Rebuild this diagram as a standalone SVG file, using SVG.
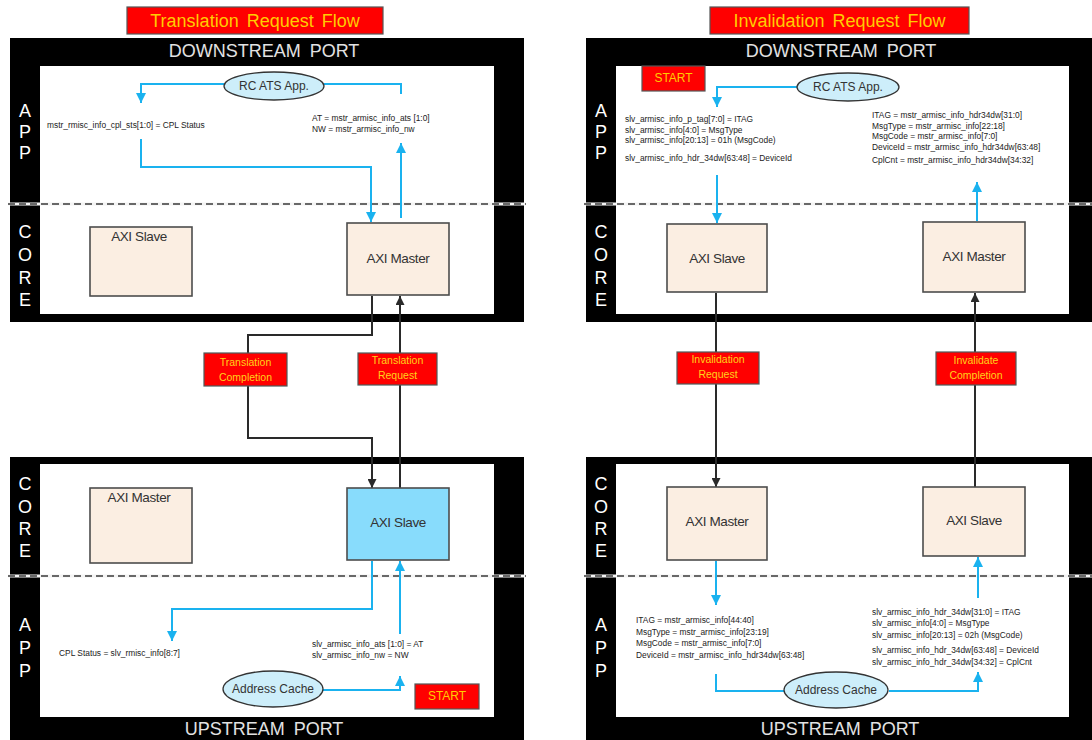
<svg xmlns="http://www.w3.org/2000/svg" width="1092" height="740" viewBox="0 0 1092 740">
  <style>
    text { font-family: "Liberation Sans", Arial, sans-serif; }
    .bg { fill: #ffffff; }
    .frame { fill: #000000; }
    .inner { fill: #ffffff; }
    .gap { fill: #f4f4f4; }
    .dash { stroke: #3a3a3a; stroke-width: 1.5; stroke-dasharray: 7 4; fill: none; }
    .port { fill: #e2e2e2; font-size: 18px; text-anchor: middle; }
    .side { fill: #ffffff; font-size: 18px; text-anchor: middle; }
    .title { fill: #ff0000; stroke: #555555; stroke-width: 1.2; }
    .titletxt { fill: #ffcc00; font-size: 18px; text-anchor: middle; word-spacing: 3px; }
    .axi { fill: #fbeee2; stroke: #4d4d4d; stroke-width: 1.6; }
    .axiblue { fill: #88dcfc; stroke: #4d4d4d; stroke-width: 1.6; }
    .axitxt { fill: #333333; font-size: 13.5px; text-anchor: middle; letter-spacing: -0.4px; }
    .oval { fill: #cdeefa; stroke: #333333; stroke-width: 1.3; }
    .ovaltxt { fill: #333333; font-size: 12px; text-anchor: middle; }
    .tag { fill: #ff0000; stroke: #4d5a5a; stroke-width: 1.2; }
    .tagtxt { fill: #ffd21a; font-size: 10.5px; text-anchor: middle; }
    .start { fill: #ff0000; stroke: #555555; stroke-width: 1.2; }
    .starttxt { fill: #ffcc00; font-size: 12px; text-anchor: middle; }
    .sig { fill: #222222; font-size: 8.4px; }
    .blue { stroke: #1ab2ef; stroke-width: 2; fill: none; }
    .blk { stroke: #2a2a2a; stroke-width: 2; fill: none; }
  </style>
  <defs>
    <marker id="ahBlue" viewBox="0 0 10 10" refX="10" refY="5" markerWidth="10" markerHeight="10" markerUnits="userSpaceOnUse" orient="auto">
      <path d="M0,0 L10,5 L0,10 z" fill="#1ab2ef"/>
    </marker>
    <marker id="ahBlack" viewBox="0 0 10 10" refX="10" refY="5" markerWidth="9" markerHeight="9" markerUnits="userSpaceOnUse" orient="auto">
      <path d="M0,0 L10,5 L0,10 z" fill="#2a2a2a"/>
    </marker>
  </defs>

  <rect class="bg" x="0" y="0" width="1092" height="740"/>

  <!-- ===== Frames: downstream / upstream ports ===== -->
  <g id="frames">
    <!-- left, downstream -->
    <rect class="frame" x="10" y="38" width="514" height="284"/>
    <rect class="inner" x="40" y="66" width="454" height="248"/>
    <rect class="gap" x="8" y="202.5" width="518" height="3"/>
    <line class="dash" x1="8" y1="204" x2="526" y2="204"/>
    <!-- left, upstream -->
    <rect class="frame" x="10" y="457" width="514" height="290"/>
    <rect class="inner" x="40" y="464" width="454" height="253"/>
    <rect class="gap" x="8" y="574.5" width="518" height="3"/>
    <line class="dash" x1="8" y1="576" x2="526" y2="576"/>
    <!-- right, downstream -->
    <rect class="frame" x="586" y="38" width="520" height="284"/>
    <rect class="inner" x="616" y="66" width="453" height="248"/>
    <rect class="gap" x="584" y="202.5" width="510" height="3"/>
    <line class="dash" x1="584" y1="204" x2="1092" y2="204"/>
    <!-- right, upstream -->
    <rect class="frame" x="586" y="457" width="520" height="290"/>
    <rect class="inner" x="616" y="464" width="453" height="253"/>
    <rect class="gap" x="584" y="574.5" width="510" height="3"/>
    <line class="dash" x1="584" y1="576" x2="1092" y2="576"/>

    <text class="port" x="264" y="57" word-spacing="4">DOWNSTREAM PORT</text>
    <text class="port" x="841" y="57" word-spacing="4">DOWNSTREAM PORT</text>
    <text class="port" x="264" y="735" word-spacing="4">UPSTREAM PORT</text>
    <text class="port" x="840" y="735" word-spacing="4">UPSTREAM PORT</text>

    <!-- side labels -->
    <g class="side">
      <text x="25" y="117">A</text><text x="25" y="138">P</text><text x="25" y="159">P</text>
      <text x="25" y="238">C</text><text x="25" y="261">O</text><text x="25" y="284">R</text><text x="25" y="306">E</text>
      <text x="25" y="490">C</text><text x="25" y="513">O</text><text x="25" y="535">R</text><text x="25" y="557">E</text>
      <text x="25" y="631">A</text><text x="25" y="654">P</text><text x="25" y="677">P</text>
      <text x="601" y="117">A</text><text x="601" y="138">P</text><text x="601" y="159">P</text>
      <text x="601" y="238">C</text><text x="601" y="261">O</text><text x="601" y="284">R</text><text x="601" y="306">E</text>
      <text x="601" y="490">C</text><text x="601" y="513">O</text><text x="601" y="535">R</text><text x="601" y="557">E</text>
      <text x="601" y="631">A</text><text x="601" y="654">P</text><text x="601" y="677">P</text>
    </g>
  </g>

  <!-- ===== Titles ===== -->
  <g id="title-translation">
    <rect class="title" x="127" y="7" width="256" height="27"/>
    <text class="titletxt" x="255" y="27">Translation Request Flow</text>
  </g>
  <g id="title-invalidation">
    <rect class="title" x="710" y="7" width="259" height="27"/>
    <text class="titletxt" x="839.5" y="27">Invalidation Request Flow</text>
  </g>

  <!-- ===== Connectors ===== -->
  <g id="connectors">
    <!-- translation flow, downstream app -->
    <path class="blue" d="M224,84 H141 V103" marker-end="url(#ahBlue)"/>
    <path class="blue" d="M141,139 V167 H371 V222" marker-end="url(#ahBlue)"/>
    <path class="blue" d="M401,218 V143" marker-end="url(#ahBlue)"/>
    <path class="blue" d="M401,94 V84 H324"/>
    <!-- translation flow, link -->
    <path class="blk" d="M372,296 V335 H248 V438 H372 V488" marker-end="url(#ahBlack)"/>
    <path class="blk" d="M400,488 V296" marker-end="url(#ahBlack)"/>
    <!-- translation flow, upstream app -->
    <path class="blue" d="M372,561 V609 H172 V641" marker-end="url(#ahBlue)"/>
    <path class="blue" d="M400,634 V561" marker-end="url(#ahBlue)"/>
    <path class="blue" d="M322,690 H400 V676" marker-end="url(#ahBlue)"/>

    <!-- invalidation flow, downstream app -->
    <path class="blue" d="M797,87 H717 V107" marker-end="url(#ahBlue)"/>
    <path class="blue" d="M717,175 V223" marker-end="url(#ahBlue)"/>
    <path class="blue" d="M977,221 V182" marker-end="url(#ahBlue)"/>
    <!-- invalidation flow, link -->
    <path class="blk" d="M716,293 V487" marker-end="url(#ahBlack)"/>
    <path class="blk" d="M975,487 V293" marker-end="url(#ahBlack)"/>
    <!-- invalidation flow, upstream app -->
    <path class="blue" d="M716,561 V605" marker-end="url(#ahBlue)"/>
    <path class="blue" d="M716,674 V691 H784"/>
    <path class="blue" d="M889,691 H978 V672" marker-end="url(#ahBlue)"/>
    <path class="blue" d="M978,598 V557" marker-end="url(#ahBlue)"/>
  </g>

  <!-- ===== Translation flow nodes ===== -->
  <g id="tr-rc-ats-app">
    <ellipse class="oval" cx="274" cy="86" rx="50" ry="14"/>
    <text class="ovaltxt" x="274" y="90">RC ATS App.</text>
  </g>
  <g id="tr-ds-cpl-status">
    <text class="sig" x="47" y="128">mstr_rmisc_info_cpl_sts[1:0]  = CPL Status</text>
  </g>
  <g id="tr-ds-at-nw">
    <text class="sig" x="312" y="121">AT = mstr_armisc_info_ats [1:0]</text>
    <text class="sig" x="312" y="132">NW = mstr_armisc_info_nw</text>
  </g>
  <g id="tr-ds-axi-slave">
    <rect class="axi" x="90" y="227" width="102" height="69"/>
    <text class="axitxt" x="139" y="241">AXI Slave</text>
  </g>
  <g id="tr-ds-axi-master">
    <rect class="axi" x="347" y="223" width="102" height="72"/>
    <text class="axitxt" x="398" y="263">AXI Master</text>
  </g>
  <g id="tr-completion">
    <rect class="tag" x="204" y="353" width="83" height="33"/>
    <text class="tagtxt" x="245.5" y="366">Translation</text>
    <text class="tagtxt" x="245.5" y="381">Completion</text>
  </g>
  <g id="tr-request">
    <rect class="tag" x="358" y="353" width="79" height="32"/>
    <text class="tagtxt" x="397.5" y="364">Translation</text>
    <text class="tagtxt" x="397.5" y="379">Request</text>
  </g>
  <g id="tr-us-axi-master">
    <rect class="axi" x="90" y="488" width="102" height="75"/>
    <text class="axitxt" x="139" y="502">AXI Master</text>
  </g>
  <g id="tr-us-axi-slave">
    <rect class="axiblue" x="347" y="488" width="102" height="72"/>
    <text class="axitxt" x="398" y="527">AXI Slave</text>
  </g>
  <g id="tr-us-cpl-status">
    <text class="sig" x="59" y="656">CPL Status  = slv_rmisc_info[8:7]</text>
  </g>
  <g id="tr-us-at-nw">
    <text class="sig" x="312" y="647">slv_armisc_info_ats [1:0] = AT</text>
    <text class="sig" x="312" y="658">slv_armisc_info_nw  = NW</text>
  </g>
  <g id="tr-address-cache">
    <ellipse class="oval" cx="273" cy="689" rx="50" ry="18"/>
    <text class="ovaltxt" x="273" y="693">Address Cache</text>
  </g>
  <g id="tr-start">
    <rect class="start" x="415" y="684" width="64" height="25"/>
    <text class="starttxt" x="447" y="700">START</text>
  </g>

  <!-- ===== Invalidation flow nodes ===== -->
  <g id="inv-start">
    <rect class="start" x="642" y="66" width="63" height="25"/>
    <text class="starttxt" x="673.5" y="82">START</text>
  </g>
  <g id="inv-rc-ats-app">
    <ellipse class="oval" cx="848" cy="87" rx="51" ry="14"/>
    <text class="ovaltxt" x="848" y="91">RC ATS App.</text>
  </g>
  <g id="inv-ds-request-fields">
    <text class="sig" x="625" y="122">slv_armisc_info_p_tag[7:0] = ITAG</text>
    <text class="sig" x="625" y="133">slv_armisc_info[4:0] = MsgType</text>
    <text class="sig" x="625" y="143">slv_armisc_info[20:13] = 01h (MsgCode)</text>
    <text class="sig" x="625" y="161">slv_armisc_info_hdr_34dw[63:48] = DeviceId</text>
  </g>
  <g id="inv-ds-completion-fields">
    <text class="sig" x="872" y="118">ITAG = mstr_armisc_info_hdr34dw[31:0]</text>
    <text class="sig" x="872" y="129">MsgType = mstr_armisc_info[22:18]</text>
    <text class="sig" x="872" y="139">MsgCode = mstr_armisc_info[7:0]</text>
    <text class="sig" x="872" y="150">DeviceId = mstr_armisc_info_hdr34dw[63:48]</text>
    <text class="sig" x="872" y="163">CplCnt = mstr_armisc_info_hdr34dw[34:32]</text>
  </g>
  <g id="inv-ds-axi-slave">
    <rect class="axi" x="667" y="224" width="100" height="68"/>
    <text class="axitxt" x="717" y="263">AXI Slave</text>
  </g>
  <g id="inv-ds-axi-master">
    <rect class="axi" x="923" y="222" width="102" height="70"/>
    <text class="axitxt" x="974" y="261">AXI Master</text>
  </g>
  <g id="inv-request">
    <rect class="tag" x="677" y="352" width="82" height="32"/>
    <text class="tagtxt" x="718" y="363">Invalidation</text>
    <text class="tagtxt" x="718" y="378">Request</text>
  </g>
  <g id="inv-completion">
    <rect class="tag" x="936" y="352" width="80" height="33"/>
    <text class="tagtxt" x="976" y="364">Invalidate</text>
    <text class="tagtxt" x="976" y="379">Completion</text>
  </g>
  <g id="inv-us-axi-master">
    <rect class="axi" x="667" y="487" width="100" height="73"/>
    <text class="axitxt" x="717" y="526">AXI Master</text>
  </g>
  <g id="inv-us-axi-slave">
    <rect class="axi" x="923" y="487" width="102" height="69"/>
    <text class="axitxt" x="974" y="525">AXI Slave</text>
  </g>
  <g id="inv-us-request-fields">
    <text class="sig" x="636" y="623">ITAG = mstr_armisc_info[44:40]</text>
    <text class="sig" x="636" y="635">MsgType = mstr_armisc_info[23:19]</text>
    <text class="sig" x="636" y="646">MsgCode = mstr_armisc_info[7:0]</text>
    <text class="sig" x="636" y="658">DeviceId = mstr_armisc_info_hdr34dw[63:48]</text>
  </g>
  <g id="inv-us-completion-fields">
    <text class="sig" x="872" y="615">slv_armisc_info_hdr_34dw[31:0] = ITAG</text>
    <text class="sig" x="872" y="626">slv_armisc_info[4:0] = MsgType</text>
    <text class="sig" x="872" y="638">slv_armisc_info[20:13] = 02h (MsgCode)</text>
    <text class="sig" x="872" y="653">slv_armisc_info_hdr_34dw[63:48] = DeviceId</text>
    <text class="sig" x="872" y="665">slv_armisc_info_hdr_34dw[34:32] = CplCnt</text>
  </g>
  <g id="inv-address-cache">
    <ellipse class="oval" cx="836" cy="690" rx="52" ry="18"/>
    <text class="ovaltxt" x="836" y="694">Address Cache</text>
  </g>
</svg>
